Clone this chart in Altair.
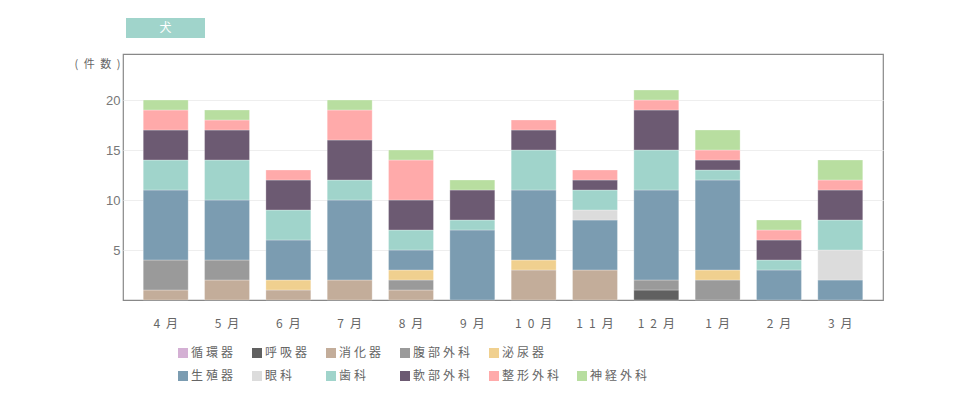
import altair as alt
import pandas as pd

SP = "\u2005"  # four-per-em space used as letter spacing
EN = "\u2002"  # en space

months = ["4月", "5月", "6月", "7月", "8月", "9月", "10月", "11月", "12月", "1月", "2月", "3月"]
categories = ["循環器", "呼吸器", "消化器", "腹部外科", "泌尿器", "生殖器", "眼科", "歯科", "軟部外科", "整形外科", "神経外科"]
colors = ["#d4b0d4", "#606060", "#c3ad9a", "#9a9a9a", "#f0d08f", "#7b9cb1", "#dcdcdc", "#a0d4cb", "#6c5a72", "#ffaaaa", "#b8dea0"]

v_junkan = [0, 0, 0, 0, 0, 0, 0, 0, 0, 0, 0, 0]
v_kokyu = [0, 0, 0, 0, 0, 0, 0, 0, 1, 0, 0, 0]
v_shoka = [1, 2, 1, 2, 1, 0, 3, 3, 0, 0, 0, 0]
v_fukubu = [3, 2, 0, 0, 1, 0, 0, 0, 1, 2, 0, 0]
v_hinyo = [0, 0, 1, 0, 1, 0, 1, 0, 0, 1, 0, 0]
v_seishoku = [7, 6, 4, 8, 2, 7, 7, 5, 9, 9, 3, 2]
v_ganka = [0, 0, 0, 0, 0, 0, 0, 1, 0, 0, 0, 3]
v_shika = [3, 4, 3, 2, 2, 1, 4, 2, 4, 1, 1, 3]
v_nanbu = [3, 3, 3, 4, 3, 3, 2, 1, 4, 1, 2, 3]
v_seikei = [2, 1, 1, 3, 4, 0, 1, 1, 1, 1, 1, 1]
v_shinkei = [1, 1, 0, 1, 1, 1, 0, 0, 1, 2, 1, 2]

series = [v_junkan, v_kokyu, v_shoka, v_fukubu, v_hinyo, v_seishoku,
          v_ganka, v_shika, v_nanbu, v_seikei, v_shinkei]

y_ticks = [5, 10, 15, 20]
legend_col = [0, 1, 2, 3, 4, 0, 1, 2, 3, 4, 5]
legend_row = [0, 0, 0, 0, 0, 1, 1, 1, 1, 1, 1]

def spaced(s, sep=SP):
    return sep.join(list(s))

month_labels = [spaced(m, EN) for m in months]

rows = []
for ci, (cat, vals) in enumerate(zip(categories, series)):
    for mi, v in enumerate(vals):
        if v > 0:
            rows.append({"month": month_labels[mi], "cat": cat, "idx": ci, "count": v})
df = pd.DataFrame(rows)

leg = pd.DataFrame({
    "name": [spaced(c) for c in categories],
    "col": legend_col,
    "row": legend_row,
    "color": colors,
})

FONT = "Noto Sans CJK JP"
GREY = "#666666"

bars = alt.Chart(df).mark_bar(stroke="white", strokeWidth=0.8, strokeOpacity=0.35).encode(
    x=alt.X("month:N", sort=month_labels,
            scale=alt.Scale(paddingInner=0.267, paddingOuter=0.33),
            axis=alt.Axis(title=None, labelAngle=0, ticks=False, domain=False,
                          labelPadding=18, labelFont=FONT, labelFontSize=12,
                          labelColor=GREY, grid=False)),
    y=alt.Y("count:Q", stack="zero",
            scale=alt.Scale(domain=[0, 24.6], nice=False),
            axis=alt.Axis(values=y_ticks, title=spaced("(件数)", EN), titleAngle=0,
                          titleX=-3, titleY=10, titleAlign="right", titleBaseline="middle",
                          titleFont=FONT, titleFontSize=11, titleFontWeight="normal",
                          titleColor=GREY, ticks=False, domain=False, labelPadding=3,
                          labelFont="Liberation Sans", labelFontSize=13, labelColor="#777777",
                          gridColor="#eeeeee", grid=True)),
    color=alt.Color("cat:N", scale=alt.Scale(domain=categories, range=colors), legend=None),
    order=alt.Order("idx:Q", sort="ascending"),
)

title_box = alt.Chart(pd.DataFrame({"t": ["犬"]})).mark_rect(color="#a0d4cb").encode(
    x=alt.value(3), x2=alt.value(82), y=alt.value(-36), y2=alt.value(-16)
)
title_text = alt.Chart(pd.DataFrame({"t": ["犬"]})).mark_text(
    color="white", font=FONT, fontSize=12, baseline="middle", align="center"
).encode(x=alt.value(42.5), y=alt.value(-26), text="t:N")

leg_x = alt.X("col:Q", axis=None,
              scale=alt.Scale(domain=[0, 1, 2, 3, 4, 5], range=[60, 134, 208, 282, 371, 459],
                              zero=False, nice=False))
leg_y = alt.Y("row:Q", axis=None,
              scale=alt.Scale(domain=[0, 1], range=[299, 322], zero=False, nice=False))

leg_sq = alt.Chart(leg).mark_point(shape="square", filled=True, size=100, opacity=1).encode(
    x=leg_x, y=leg_y, color=alt.Color("color:N", scale=None)
)
leg_tx = alt.Chart(leg).mark_text(align="left", baseline="middle", dx=8, font=FONT,
                                  fontSize=12, color=GREY).encode(
    x=leg_x, y=leg_y, text="name:N"
)

chart = alt.layer(bars, title_box, title_text, leg_sq, leg_tx).resolve_scale(
    x="independent", y="independent", color="independent"
).properties(
    width=760, height=246,
    background="white",
    autosize=alt.AutoSizeParams(type="none"),
    padding={"left": 123, "top": 54, "right": 77, "bottom": 100},
).configure_view(stroke="#888888", strokeWidth=1.2)

chart.save("out.html", embed_options={"renderer": "svg", "actions": False})
